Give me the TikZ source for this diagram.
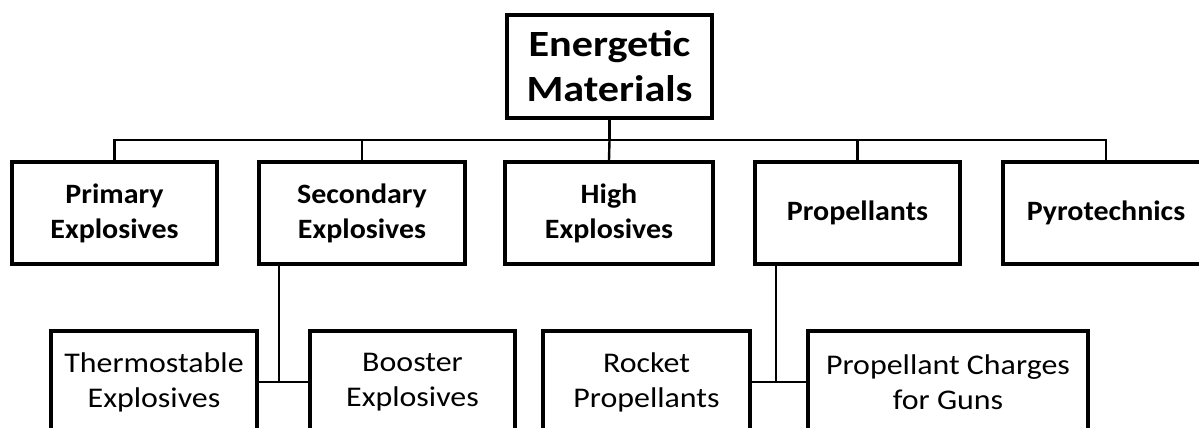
\documentclass[tikz,border=0pt]{standalone}
\usepackage{fontspec}
\setmainfont{Carlito}
\newfontfamily\topfont{Carlito}[FakeStretch=1.14]
\newfontfamily\midfont{Carlito}[FakeStretch=1.07]
\newfontfamily\lowfont{Carlito}[FakeStretch=1.12]
\begin{document}
\begin{tikzpicture}[x=1pt,y=-1pt,
  box/.style={draw=black, line width=3.6pt, fill=white, align=center, inner sep=0pt},
  topbox/.style={box, minimum width=205pt, minimum height=103pt, font=\topfont\bfseries\fontsize{37}{45}\selectfont},
  midbox/.style={box, minimum height=102pt, font=\midfont\bfseries\fontsize{28}{35}\selectfont},
  lowbox/.style={box, line width=3.2pt, minimum height=102pt, font=\lowfont\fontsize{28.5}{35}\selectfont},
  conn/.style={draw=black, line width=2.4pt}]
\clip (0,0) rectangle (1199,428);
\fill[white] (0,0) rectangle (1199,428);
% nodes
\node[topbox] (em) at (609.5,66.5) {Energetic\\Materials};
\node[midbox, minimum width=205pt] (prim) at (114.5,213) {Primary\\Explosives};
\node[midbox, minimum width=206pt] (sec) at (362,213) {Secondary\\Explosives};
\node[midbox, minimum width=208pt] (high) at (609,213) {High\\Explosives};
\node[midbox, minimum width=205pt] (prop) at (857.5,213) {Propellants};
\node[midbox, minimum width=206pt] (pyro) at (1106,213) {Pyrotechnics};
\node[lowbox, minimum width=206pt] (therm) at (154,382) {Thermostable\\Explosives};
\node[lowbox, minimum width=205pt] (boost) at (412.5,382) {Booster\\Explosives};
\node[lowbox, minimum width=207pt] (rocket) at (646.5,382) {Rocket\\Propellants};
\node[lowbox, minimum width=280pt] (pcg) at (948,382) {Propellant Charges\\for Guns};
% junction coordinates
\coordinate (bus) at (609.5,140);
\coordinate (j1) at (279,382);
\coordinate (j2) at (776,382);
% connectors
\draw[conn] (em.south) -- (bus);
\draw[conn] (bus) -| (prim.north);
\draw[conn] (bus) -| (sec.north);
\draw[conn] (bus) -- (high.north);
\draw[conn] (bus) -| (prop.north);
\draw[conn] (bus) -| (pyro.north);
\draw[conn] (j1 |- sec.south) -- (j1);
\draw[conn] (therm.east) -- (boost.west);
\draw[conn] (j2 |- prop.south) -- (j2);
\draw[conn] (rocket.east) -- (pcg.west);
\end{tikzpicture}
\end{document}
